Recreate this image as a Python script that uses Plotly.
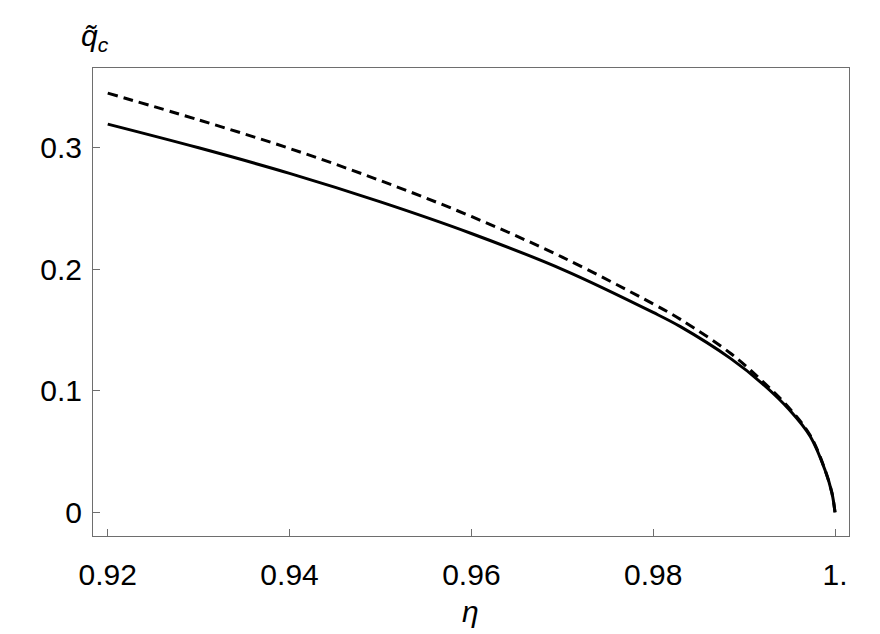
import plotly.graph_objects as go

eta = [0.92, 0.93, 0.94, 0.95, 0.96, 0.97, 0.98, 0.983, 0.9885,
       0.992, 0.995, 0.9973, 0.9989, 0.99966, 1.0]

# solid curve
q_solid = [0.3195, 0.3000, 0.2790, 0.2555, 0.2295, 0.2000, 0.1645, 0.1528, 0.1267,
           0.1060, 0.0842, 0.0622, 0.0348, 0.0160, 0.0]

# dashed curve
q_dashed = [0.3450, 0.3230, 0.2995, 0.2730, 0.2435, 0.2100, 0.1715, 0.1588, 0.1309,
            0.1080, 0.0855, 0.0630, 0.0350, 0.0160, 0.0]

x_ticks = [0.92, 0.94, 0.96, 0.98, 1.0]
x_ticktext = ['0.92', '0.94', '0.96', '0.98', '1.']
y_ticks = [0, 0.1, 0.2, 0.3]
y_ticktext = ['0', '0.1', '0.2', '0.3']

font_family = 'Liberation Sans, Arial, sans-serif'
axis_color = '#6e6e6e'

fig = go.Figure()

fig.add_trace(go.Scatter(x=eta, y=q_dashed,
                         mode='lines',
                         line=dict(shape='spline', smoothing=1.0, color='black',
                                   width=3, dash='10px,6px'),
                         showlegend=False))

fig.add_trace(go.Scatter(x=eta, y=q_solid,
                         mode='lines',
                         line=dict(shape='spline', smoothing=1.0, color='black', width=3),
                         showlegend=False))

axis_common = dict(showgrid=False, zeroline=False,
                   showline=True, mirror=True, linecolor=axis_color, linewidth=1,
                   ticks='inside', ticklen=7, tickwidth=1, tickcolor=axis_color,
                   tickfont=dict(family=font_family, size=30, color='black'))

# the page body has an 8px margin, so the figure is 8px smaller each way
fig.update_layout(width=872, height=626,
                  margin=dict(l=85, r=31, t=60, b=98),
                  plot_bgcolor='white', paper_bgcolor='white',
                  xaxis=dict(range=[0.91838, 1.00154],
                             tickvals=x_ticks, ticktext=x_ticktext,
                             ticklabelstandoff=12, **axis_common),
                  yaxis=dict(range=[-0.0195, 0.3657],
                             tickvals=y_ticks, ticktext=y_ticktext,
                             ticklabelstandoff=4, **axis_common),
                  annotations=[
                      dict(text='<i>η</i>', xref='paper', yref='paper',
                           x=0.4987, y=-0.162, xanchor='center', yanchor='middle',
                           showarrow=False,
                           font=dict(family=font_family, size=30, color='black')),
                      dict(text='<i>q̃</i><sub><i>c</i></sub>', xref='paper', yref='paper',
                           x=0.003, y=1.066, xanchor='center', yanchor='middle',
                           showarrow=False,
                           font=dict(family=font_family, size=30, color='black')),
                  ])

fig.write_html("out.html")
